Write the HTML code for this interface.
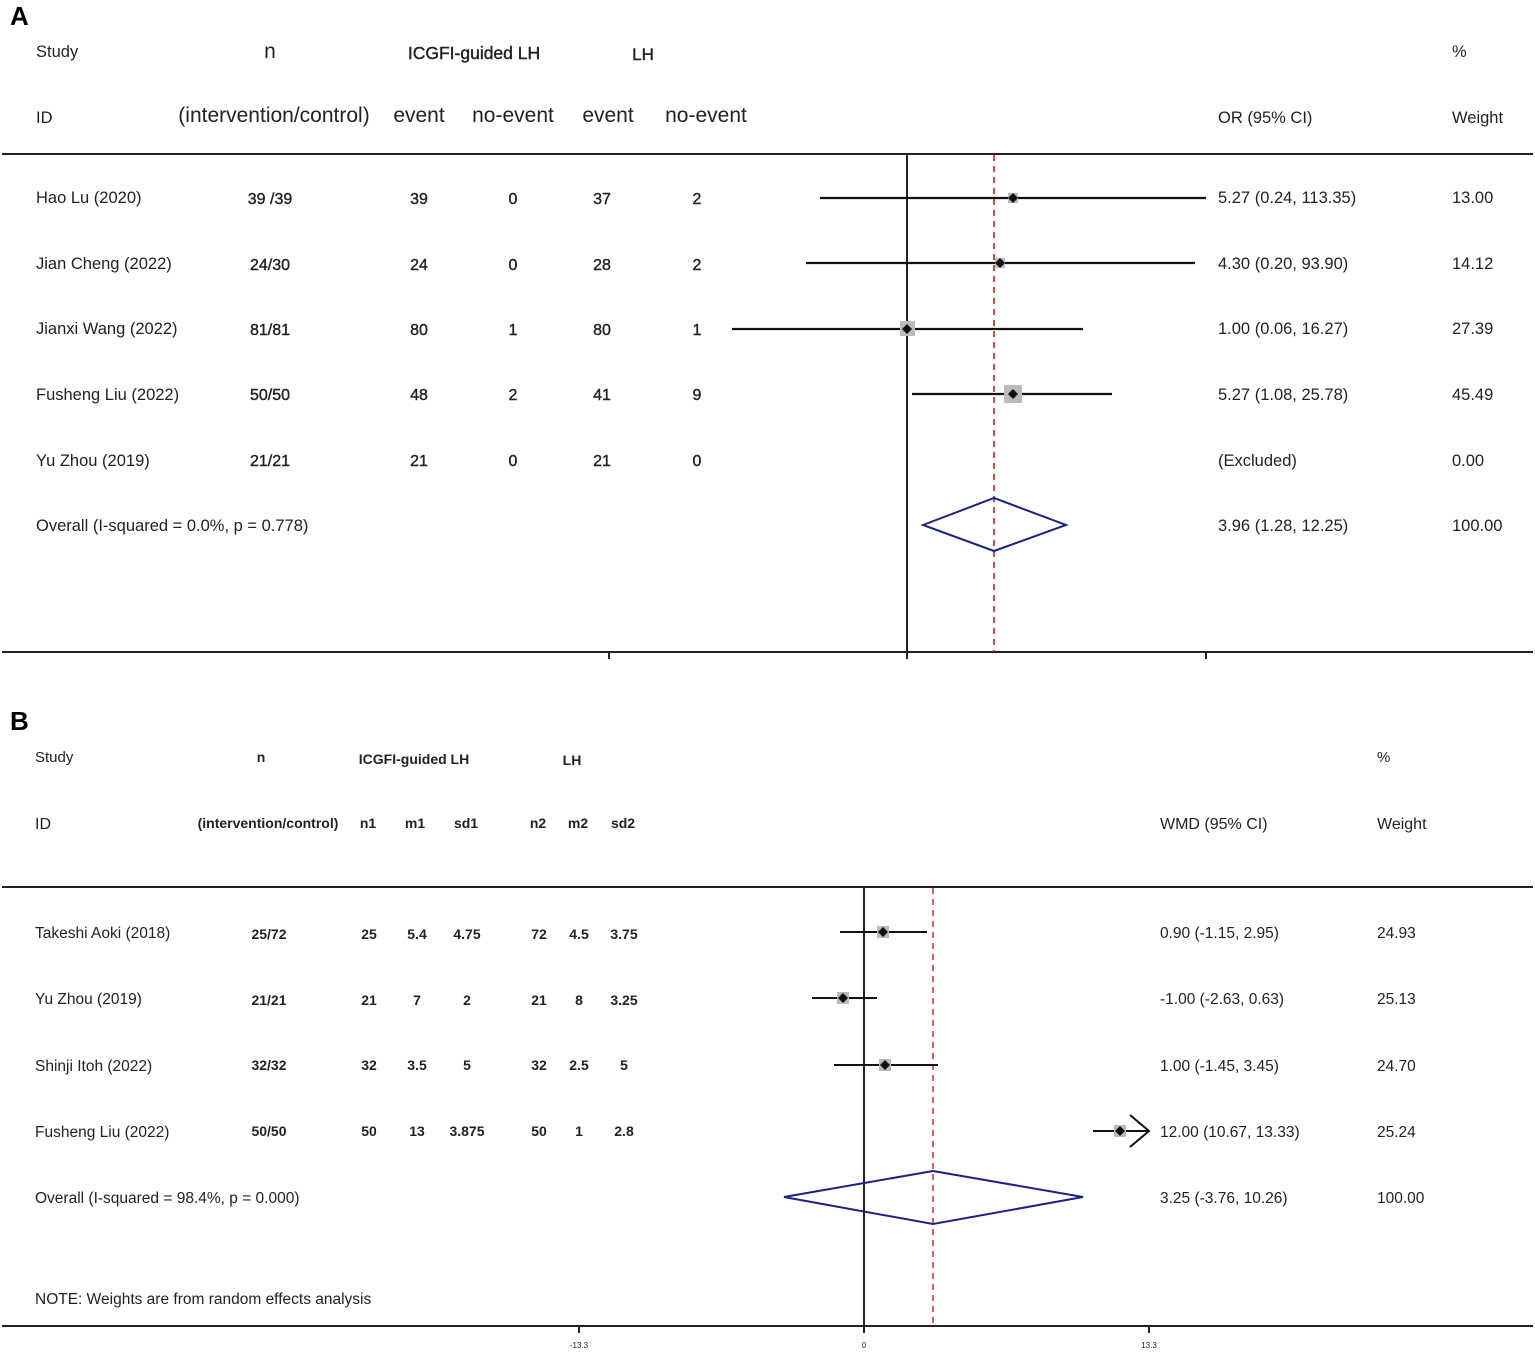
<!DOCTYPE html>
<html><head><meta charset="utf-8"><style>
html,body{margin:0;padding:0;background:#fff}
svg{display:block}
text{font-family:"Liberation Sans",Arial,sans-serif;fill:#222}
.s{font-size:16.5px}
.h{font-size:21px}
.b{font-size:14px;font-weight:bold}
.hb{font-size:14px;font-weight:bold}
.n{font-size:16px;stroke:#222;stroke-width:0.4px}
.m{stroke:#222;stroke-width:0.4px}
</style></head><body>
<svg width="1535" height="1354" viewBox="0 0 1535 1354" xmlns="http://www.w3.org/2000/svg">
<!-- Panel A -->
<text x="10" y="25" font-size="26" font-weight="bold" style="fill:#000">A</text>
<text class="s" x="36" y="57">Study</text>
<text class="h" x="270" y="58" text-anchor="middle" font-size="19">n</text>
<text class="m" x="474" y="59" text-anchor="middle" font-size="17.5">ICGFI-guided LH</text>
<text class="m" x="643" y="60" text-anchor="middle" font-size="17">LH</text>
<text class="s" x="1452" y="57">%</text>
<text class="s" x="36" y="123">ID</text>
<text class="h" x="274" y="122" text-anchor="middle">(intervention/control)</text>
<text class="h" x="419" y="122" text-anchor="middle">event</text>
<text class="h" x="513" y="122" text-anchor="middle">no-event</text>
<text class="h" x="608" y="122" text-anchor="middle">event</text>
<text class="h" x="706" y="122" text-anchor="middle">no-event</text>
<text class="s" x="1218" y="123">OR (95% CI)</text>
<text class="s" x="1452" y="123">Weight</text>
<line x1="2" y1="154" x2="1533" y2="154" stroke="#222" stroke-width="2"/>
<line x1="2" y1="652" x2="1533" y2="652" stroke="#222" stroke-width="2"/>
<line x1="609" y1="652" x2="609" y2="659" stroke="#222" stroke-width="2"/>
<line x1="907" y1="652" x2="907" y2="659" stroke="#222" stroke-width="2"/>
<line x1="1206" y1="652" x2="1206" y2="659" stroke="#222" stroke-width="2"/>
<line x1="907" y1="155" x2="907" y2="652" stroke="#222" stroke-width="2"/>
<line x1="994" y1="155" x2="994" y2="652" stroke="#b22" stroke-width="1.6" stroke-dasharray="6,5"/>
<g class="s">
<text x="36" y="203">Hao Lu (2020)</text><text x="1218" y="203">5.27 (0.24, 113.35)</text><text x="1452" y="203">13.00</text>
<text x="36" y="269">Jian Cheng (2022)</text><text x="1218" y="269">4.30 (0.20, 93.90)</text><text x="1452" y="269">14.12</text>
<text x="36" y="334">Jianxi Wang (2022)</text><text x="1218" y="334">1.00 (0.06, 16.27)</text><text x="1452" y="334">27.39</text>
<text x="36" y="400">Fusheng Liu (2022)</text><text x="1218" y="400">5.27 (1.08, 25.78)</text><text x="1452" y="400">45.49</text>
<text x="36" y="466">Yu Zhou (2019)</text><text x="1218" y="466">(Excluded)</text><text x="1452" y="466">0.00</text>
<text x="36" y="531">Overall  (I-squared = 0.0%, p = 0.778)</text><text x="1218" y="531">3.96 (1.28, 12.25)</text><text x="1452" y="531">100.00</text>
</g>
<g class="n" text-anchor="middle">
<text x="270" y="204">39 /39</text><text x="419" y="204">39</text><text x="513" y="204">0</text><text x="602" y="204">37</text><text x="697" y="204">2</text>
<text x="270" y="270">24/30</text><text x="419" y="270">24</text><text x="513" y="270">0</text><text x="602" y="270">28</text><text x="697" y="270">2</text>
<text x="270" y="335">81/81</text><text x="419" y="335">80</text><text x="513" y="335">1</text><text x="602" y="335">80</text><text x="697" y="335">1</text>
<text x="270" y="400">50/50</text><text x="419" y="400">48</text><text x="513" y="400">2</text><text x="602" y="400">41</text><text x="697" y="400">9</text>
<text x="270" y="466">21/21</text><text x="419" y="466">21</text><text x="513" y="466">0</text><text x="602" y="466">21</text><text x="697" y="466">0</text>
</g>
<g stroke="#111" stroke-width="2.2">
<line x1="820" y1="198" x2="1206" y2="198"/>
<line x1="806" y1="263" x2="1195" y2="263"/>
<line x1="732" y1="329" x2="1083" y2="329"/>
<line x1="912" y1="394" x2="1112" y2="394"/>
</g>
<rect x="1008" y="193" width="10" height="10" fill="#bbb"/>
<rect x="995" y="258" width="10" height="10" fill="#bbb"/>
<rect x="900" y="321" width="15" height="15" fill="#bbb"/>
<rect x="1004" y="385" width="18" height="18" fill="#bbb"/>
<g fill="#111">
<path d="M1013 193 L1018 198 L1013 203 L1008 198Z"/>
<path d="M1000 258 L1005 263 L1000 268 L995 263Z"/>
<path d="M907 324 L912 329 L907 334 L902 329Z"/>
<path d="M1013 389 L1018 394 L1013 399 L1008 394Z"/>
</g>
<path d="M923 525 L994 498 L1066 525 L994 551Z" fill="none" stroke="#1a237e" stroke-width="2"/>

<!-- Panel B -->
<text x="10" y="730" font-size="26" font-weight="bold" style="fill:#000">B</text>
<text x="35" y="762" font-size="15">Study</text>
<text class="hb" x="261" y="762" text-anchor="middle">n</text>
<text class="hb" x="414" y="764" text-anchor="middle" font-size="12.5">ICGFI-guided LH</text>
<text class="hb" x="572" y="765" text-anchor="middle" font-size="12.5">LH</text>
<text x="1377" y="762" font-size="15">%</text>
<text x="35" y="829" font-size="16">ID</text>
<text class="hb" x="268" y="828" text-anchor="middle">(intervention/control)</text>
<text class="hb" x="368" y="828" text-anchor="middle">n1</text>
<text class="hb" x="415" y="828" text-anchor="middle">m1</text>
<text class="hb" x="466" y="828" text-anchor="middle">sd1</text>
<text class="hb" x="538" y="828" text-anchor="middle">n2</text>
<text class="hb" x="578" y="828" text-anchor="middle">m2</text>
<text class="hb" x="623" y="828" text-anchor="middle">sd2</text>
<text x="1160" y="829" font-size="16">WMD (95% CI)</text>
<text x="1377" y="829" font-size="16">Weight</text>
<line x1="2" y1="887" x2="1533" y2="887" stroke="#222" stroke-width="2"/>
<line x1="2" y1="1326" x2="1533" y2="1326" stroke="#222" stroke-width="2"/>
<line x1="579" y1="1326" x2="579" y2="1333" stroke="#222" stroke-width="2"/>
<line x1="864" y1="1326" x2="864" y2="1333" stroke="#222" stroke-width="2"/>
<line x1="1149" y1="1326" x2="1149" y2="1333" stroke="#222" stroke-width="2"/>
<text x="579" y="1348" font-size="8" text-anchor="middle">-13.3</text>
<text x="864" y="1348" font-size="8" text-anchor="middle">0</text>
<text x="1149" y="1348" font-size="8" text-anchor="middle">13.3</text>
<line x1="864" y1="888" x2="864" y2="1326" stroke="#222" stroke-width="2"/>
<line x1="933" y1="888" x2="933" y2="1326" stroke="#b22" stroke-width="1.4" stroke-dasharray="6,5"/>
<g font-size="15.5">
<text x="35" y="938">Takeshi Aoki (2018)</text><text x="1160" y="938">0.90 (-1.15, 2.95)</text><text x="1377" y="938">24.93</text>
<text x="35" y="1004">Yu Zhou (2019)</text><text x="1160" y="1004">-1.00 (-2.63, 0.63)</text><text x="1377" y="1004">25.13</text>
<text x="35" y="1071">Shinji Itoh (2022)</text><text x="1160" y="1071">1.00 (-1.45, 3.45)</text><text x="1377" y="1071">24.70</text>
<text x="35" y="1137">Fusheng Liu (2022)</text><text x="1160" y="1137">12.00 (10.67, 13.33)</text><text x="1377" y="1137">25.24</text>
<text x="35" y="1203">Overall  (I-squared = 98.4%, p = 0.000)</text><text x="1160" y="1203">3.25 (-3.76, 10.26)</text><text x="1377" y="1203">100.00</text>
<text x="35" y="1304">NOTE: Weights are from random effects analysis</text>
</g>
<g class="b" text-anchor="middle">
<text x="269" y="939">25/72</text><text x="369" y="939">25</text><text x="417" y="939">5.4</text><text x="467" y="939">4.75</text><text x="539" y="939">72</text><text x="579" y="939">4.5</text><text x="624" y="939">3.75</text>
<text x="269" y="1005">21/21</text><text x="369" y="1005">21</text><text x="417" y="1005">7</text><text x="467" y="1005">2</text><text x="539" y="1005">21</text><text x="579" y="1005">8</text><text x="624" y="1005">3.25</text>
<text x="269" y="1070">32/32</text><text x="369" y="1070">32</text><text x="417" y="1070">3.5</text><text x="467" y="1070">5</text><text x="539" y="1070">32</text><text x="579" y="1070">2.5</text><text x="624" y="1070">5</text>
<text x="269" y="1136">50/50</text><text x="369" y="1136">50</text><text x="417" y="1136">13</text><text x="467" y="1136">3.875</text><text x="539" y="1136">50</text><text x="579" y="1136">1</text><text x="624" y="1136">2.8</text>
</g>
<g stroke="#111" stroke-width="2">
<line x1="840" y1="932" x2="927" y2="932"/>
<line x1="812" y1="998" x2="877" y2="998"/>
<line x1="834" y1="1065" x2="938" y2="1065"/>
<line x1="1093" y1="1131" x2="1149" y2="1131"/>
<polyline points="1130,1115 1149,1131 1130,1147" fill="none"/>
</g>
<rect x="877" y="926" width="12" height="12" fill="#bbb"/>
<rect x="837" y="992" width="12" height="12" fill="#bbb"/>
<rect x="879" y="1059" width="12" height="12" fill="#bbb"/>
<rect x="1114" y="1125" width="12" height="12" fill="#bbb"/>
<g fill="#111">
<path d="M883 927 L888 932 L883 937 L878 932Z"/>
<path d="M843 993 L848 998 L843 1003 L838 998Z"/>
<path d="M885 1060 L890 1065 L885 1070 L880 1065Z"/>
<path d="M1120 1126 L1125 1131 L1120 1136 L1115 1131Z"/>
</g>
<path d="M784 1197 L933 1171 L1083 1197 L933 1224Z" fill="none" stroke="#1a237e" stroke-width="2"/>
</svg>
</body></html>
